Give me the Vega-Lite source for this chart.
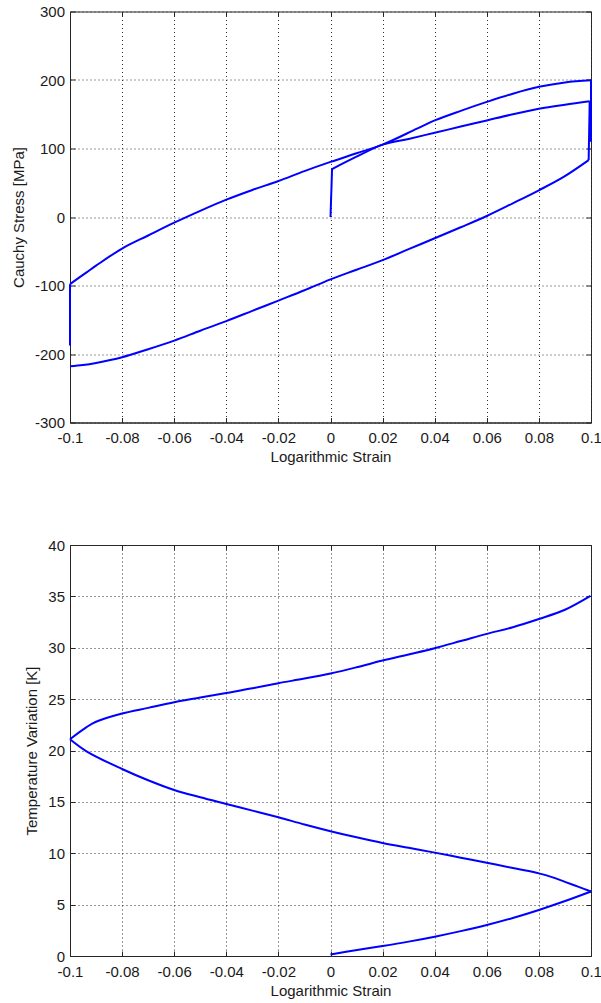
{
  "$schema": "https://vega.github.io/schema/vega-lite/v6.json",
  "padding": {"left": 10, "top": 3.5, "right": 0, "bottom": 0},
  "spacing": 71.5,
  "config": {
    "view": {"stroke": "#262626", "strokeWidth": 1},
    "font": "Liberation Sans",
    "axis": {
      "labelFont": "Liberation Sans", "labelFontSize": 15, "labelColor": "#1a1a1a",
      "titleFont": "Liberation Sans", "titleFontSize": 15, "titleFontWeight": "normal", "titleColor": "#1a1a1a",
      "domainColor": "#262626", "tickColor": "#262626", "tickSize": -5,
      "grid": true, "gridColor": "#333333", "gridDash": [1, 3], "gridOpacity": 1,
      "labelOverlap": false, "labelFlush": false
    }
  },
  "datasets": {
    "stress": [
      {"i": 0, "s": 1, "x": 0, "y": 0},
      {"i": 1, "s": 1, "x": 0.0006, "y": 70},
      {"i": 2, "s": 2, "x": 0.0006, "y": 70},
      {"i": 3, "s": 2, "x": 0.01, "y": 88},
      {"i": 4, "s": 2, "x": 0.02, "y": 105.7},
      {"i": 5, "s": 2, "x": 0.03, "y": 114},
      {"i": 6, "s": 2, "x": 0.04, "y": 123},
      {"i": 7, "s": 2, "x": 0.05, "y": 132},
      {"i": 8, "s": 2, "x": 0.06, "y": 141},
      {"i": 9, "s": 2, "x": 0.07, "y": 150},
      {"i": 10, "s": 2, "x": 0.08, "y": 158},
      {"i": 11, "s": 2, "x": 0.09, "y": 164},
      {"i": 12, "s": 2, "x": 0.0995, "y": 169},
      {"i": 13, "s": 3, "x": 0.0995, "y": 169},
      {"i": 14, "s": 3, "x": 0.0991, "y": 83},
      {"i": 15, "s": 4, "x": 0.0991, "y": 83},
      {"i": 16, "s": 4, "x": 0.0895, "y": 58.5},
      {"i": 17, "s": 4, "x": 0.08, "y": 39},
      {"i": 18, "s": 4, "x": 0.07, "y": 20},
      {"i": 19, "s": 4, "x": 0.06, "y": 1.5},
      {"i": 20, "s": 4, "x": 0.05, "y": -15},
      {"i": 21, "s": 4, "x": 0.04, "y": -31},
      {"i": 22, "s": 4, "x": 0.03, "y": -47},
      {"i": 23, "s": 4, "x": 0.02, "y": -63},
      {"i": 24, "s": 4, "x": 0.01, "y": -77},
      {"i": 25, "s": 4, "x": 0, "y": -91},
      {"i": 26, "s": 4, "x": -0.01, "y": -107},
      {"i": 27, "s": 4, "x": -0.02, "y": -122},
      {"i": 28, "s": 4, "x": -0.03, "y": -137},
      {"i": 29, "s": 4, "x": -0.04, "y": -152},
      {"i": 30, "s": 4, "x": -0.05, "y": -166},
      {"i": 31, "s": 4, "x": -0.06, "y": -180.4},
      {"i": 32, "s": 4, "x": -0.07, "y": -193},
      {"i": 33, "s": 4, "x": -0.08, "y": -204.7},
      {"i": 34, "s": 4, "x": -0.09, "y": -213},
      {"i": 35, "s": 4, "x": -0.095, "y": -216},
      {"i": 36, "s": 4, "x": -0.1, "y": -217.8},
      {"i": 37, "s": 5, "x": -0.1, "y": -187.5},
      {"i": 38, "s": 5, "x": -0.1, "y": -98},
      {"i": 39, "s": 6, "x": -0.1, "y": -98},
      {"i": 40, "s": 6, "x": -0.0935, "y": -80.4},
      {"i": 41, "s": 6, "x": -0.09, "y": -71},
      {"i": 42, "s": 6, "x": -0.08, "y": -46},
      {"i": 43, "s": 6, "x": -0.07, "y": -27},
      {"i": 44, "s": 6, "x": -0.06, "y": -8.3},
      {"i": 45, "s": 6, "x": -0.05, "y": 9},
      {"i": 46, "s": 6, "x": -0.04, "y": 25.3},
      {"i": 47, "s": 6, "x": -0.03, "y": 39.5},
      {"i": 48, "s": 6, "x": -0.02, "y": 52.6},
      {"i": 49, "s": 6, "x": -0.01, "y": 67},
      {"i": 50, "s": 6, "x": 0, "y": 80.4},
      {"i": 51, "s": 6, "x": 0.01, "y": 93},
      {"i": 52, "s": 6, "x": 0.02, "y": 105.7},
      {"i": 53, "s": 6, "x": 0.0332, "y": 129},
      {"i": 54, "s": 6, "x": 0.04, "y": 141},
      {"i": 55, "s": 6, "x": 0.05, "y": 155},
      {"i": 56, "s": 6, "x": 0.06, "y": 168},
      {"i": 57, "s": 6, "x": 0.07, "y": 180},
      {"i": 58, "s": 6, "x": 0.08, "y": 190},
      {"i": 59, "s": 6, "x": 0.09, "y": 196.5},
      {"i": 60, "s": 6, "x": 0.1, "y": 199.5},
      {"i": 61, "s": 7, "x": 0.1, "y": 199.5},
      {"i": 62, "s": 7, "x": 0.1, "y": 110}
    ],
    "temp": [
      {"i": 0, "s": 1, "x": 0, "y": 0.15},
      {"i": 1, "s": 1, "x": 0.0102, "y": 0.58},
      {"i": 2, "s": 1, "x": 0.02, "y": 0.97},
      {"i": 3, "s": 1, "x": 0.03, "y": 1.4},
      {"i": 4, "s": 1, "x": 0.04, "y": 1.88},
      {"i": 5, "s": 1, "x": 0.05, "y": 2.42},
      {"i": 6, "s": 1, "x": 0.06, "y": 3.02},
      {"i": 7, "s": 1, "x": 0.07, "y": 3.7},
      {"i": 8, "s": 1, "x": 0.08, "y": 4.48},
      {"i": 9, "s": 1, "x": 0.0895, "y": 5.3},
      {"i": 10, "s": 1, "x": 0.1, "y": 6.28},
      {"i": 11, "s": 2, "x": 0.1, "y": 6.28},
      {"i": 12, "s": 2, "x": 0.095, "y": 6.75},
      {"i": 13, "s": 2, "x": 0.09, "y": 7.22},
      {"i": 14, "s": 2, "x": 0.085, "y": 7.68},
      {"i": 15, "s": 2, "x": 0.08, "y": 8.04},
      {"i": 16, "s": 2, "x": 0.075, "y": 8.32},
      {"i": 17, "s": 2, "x": 0.07, "y": 8.56},
      {"i": 18, "s": 2, "x": 0.06, "y": 9.08},
      {"i": 19, "s": 2, "x": 0.05, "y": 9.57},
      {"i": 20, "s": 2, "x": 0.04, "y": 10.06},
      {"i": 21, "s": 2, "x": 0.03, "y": 10.53},
      {"i": 22, "s": 2, "x": 0.02, "y": 11.0},
      {"i": 23, "s": 2, "x": 0.01, "y": 11.55},
      {"i": 24, "s": 2, "x": 0, "y": 12.15},
      {"i": 25, "s": 2, "x": -0.01, "y": 12.8},
      {"i": 26, "s": 2, "x": -0.02, "y": 13.5},
      {"i": 27, "s": 2, "x": -0.03, "y": 14.15},
      {"i": 28, "s": 2, "x": -0.04, "y": 14.8},
      {"i": 29, "s": 2, "x": -0.05, "y": 15.45},
      {"i": 30, "s": 2, "x": -0.06, "y": 16.15},
      {"i": 31, "s": 2, "x": -0.07, "y": 17.1},
      {"i": 32, "s": 2, "x": -0.08, "y": 18.2},
      {"i": 33, "s": 2, "x": -0.0935, "y": 19.9},
      {"i": 34, "s": 2, "x": -0.1, "y": 21.1},
      {"i": 35, "s": 3, "x": -0.1, "y": 21.1},
      {"i": 36, "s": 3, "x": -0.0935, "y": 22.3},
      {"i": 37, "s": 3, "x": -0.09, "y": 22.8},
      {"i": 38, "s": 3, "x": -0.08, "y": 23.6},
      {"i": 39, "s": 3, "x": -0.07, "y": 24.15},
      {"i": 40, "s": 3, "x": -0.06, "y": 24.7},
      {"i": 41, "s": 3, "x": -0.05, "y": 25.15},
      {"i": 42, "s": 3, "x": -0.04, "y": 25.6},
      {"i": 43, "s": 3, "x": -0.03, "y": 26.05},
      {"i": 44, "s": 3, "x": -0.02, "y": 26.55},
      {"i": 45, "s": 3, "x": -0.01, "y": 27.0},
      {"i": 46, "s": 3, "x": 0, "y": 27.5},
      {"i": 47, "s": 3, "x": 0.01, "y": 28.1},
      {"i": 48, "s": 3, "x": 0.02, "y": 28.75},
      {"i": 49, "s": 3, "x": 0.03, "y": 29.35},
      {"i": 50, "s": 3, "x": 0.04, "y": 29.96},
      {"i": 51, "s": 3, "x": 0.05, "y": 30.65},
      {"i": 52, "s": 3, "x": 0.06, "y": 31.35},
      {"i": 53, "s": 3, "x": 0.07, "y": 32.0},
      {"i": 54, "s": 3, "x": 0.08, "y": 32.8},
      {"i": 55, "s": 3, "x": 0.09, "y": 33.7},
      {"i": 56, "s": 3, "x": 0.0998, "y": 35.05}
    ]
  },
  "vconcat": [
    {
      "width": 521,
      "height": 411,
      "data": {"name": "stress"},
      "layer": [
        {
          "mark": {"type": "line", "color": "#0000ff", "strokeWidth": 2, "interpolate": "catmull-rom"},
          "encoding": {
            "x": {"field": "x", "type": "quantitative",
              "scale": {"domain": [-0.1, 0.1], "nice": false, "zero": false},
              "axis": {"orient": "bottom", "values": [-0.1, -0.08, -0.06, -0.04, -0.02, 0, 0.02, 0.04, 0.06, 0.08, 0.1], "labelExpr": "'' + datum.value", "title": "Logarithmic Strain", "labelPadding": 13, "titlePadding": 4}},
            "y": {"field": "y", "type": "quantitative",
              "scale": {"domain": [-300, 300], "nice": false, "zero": false},
              "axis": {"orient": "left", "values": [-300, -200, -100, 0, 100, 200, 300], "labelExpr": "'' + datum.value", "title": "Cauchy Stress [MPa]", "labelPadding": 10.5, "titlePadding": 8}},
            "order": {"field": "i"},
            "detail": {"field": "s"}
          }
        },
        {
          "mark": {"type": "line", "strokeOpacity": 0},
          "encoding": {
            "x": {"field": "x", "type": "quantitative",
              "axis": {"orient": "top", "values": [-0.1, -0.08, -0.06, -0.04, -0.02, 0, 0.02, 0.04, 0.06, 0.08, 0.1], "labels": false, "title": null, "grid": false, "domain": false}},
            "y": {"field": "y", "type": "quantitative",
              "axis": {"orient": "right", "values": [-300, -200, -100, 0, 100, 200, 300], "labels": false, "title": null, "grid": false, "domain": false}},
            "order": {"field": "i"},
            "detail": {"field": "s"}
          }
        }
      ],
      "resolve": {"axis": {"x": "independent", "y": "independent"}}
    },
    {
      "width": 521,
      "height": 411,
      "data": {"name": "temp"},
      "layer": [
        {
          "mark": {"type": "line", "color": "#0000ff", "strokeWidth": 2, "interpolate": "catmull-rom"},
          "encoding": {
            "x": {"field": "x", "type": "quantitative",
              "scale": {"domain": [-0.1, 0.1], "nice": false, "zero": false},
              "axis": {"orient": "bottom", "values": [-0.1, -0.08, -0.06, -0.04, -0.02, 0, 0.02, 0.04, 0.06, 0.08, 0.1], "labelExpr": "'' + datum.value", "title": "Logarithmic Strain", "labelPadding": 13, "titlePadding": 4}},
            "y": {"field": "y", "type": "quantitative",
              "scale": {"domain": [0, 40], "nice": false, "zero": false},
              "axis": {"orient": "left", "values": [0, 5, 10, 15, 20, 25, 30, 35, 40], "labelExpr": "'' + datum.value", "title": "Temperature Variation [K]", "labelPadding": 10.5, "titlePadding": 8}},
            "order": {"field": "i"},
            "detail": {"field": "s"}
          }
        },
        {
          "mark": {"type": "line", "strokeOpacity": 0},
          "encoding": {
            "x": {"field": "x", "type": "quantitative",
              "axis": {"orient": "top", "values": [-0.1, -0.08, -0.06, -0.04, -0.02, 0, 0.02, 0.04, 0.06, 0.08, 0.1], "labels": false, "title": null, "grid": false, "domain": false}},
            "y": {"field": "y", "type": "quantitative",
              "axis": {"orient": "right", "values": [0, 5, 10, 15, 20, 25, 30, 35, 40], "labels": false, "title": null, "grid": false, "domain": false}},
            "order": {"field": "i"},
            "detail": {"field": "s"}
          }
        }
      ],
      "resolve": {"axis": {"x": "independent", "y": "independent"}}
    }
  ]
}
